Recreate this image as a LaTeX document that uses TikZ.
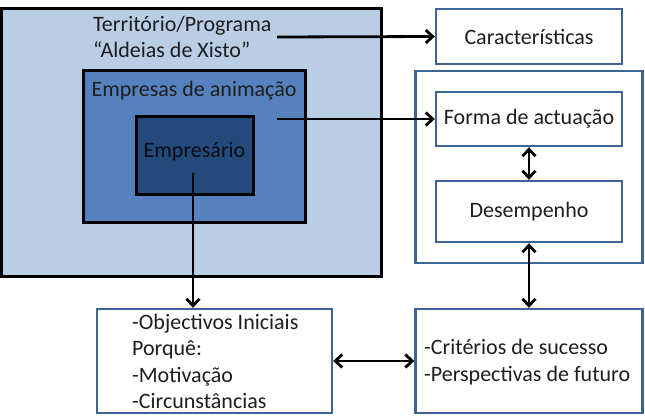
\documentclass[tikz,border=0pt]{standalone}
\usepackage{fontspec}
\setmainfont{Carlito}
\usetikzlibrary{arrows.meta}
\definecolor{lightbl}{HTML}{B9CDE5}
\definecolor{midbl}{HTML}{5581BE}
\definecolor{darkbl}{HTML}{244A7C}
\definecolor{edgebl}{HTML}{3C6494}
\definecolor{txt}{HTML}{1E1E1E}
\begin{document}
\begin{tikzpicture}[x=1pt,y=-1pt,
  nest/.style={draw=black,line width=3pt,inner sep=0pt},
  wbox/.style={draw=edgebl,line width=2.4pt,fill=white,inner sep=0pt},
  lbl/.style={font=\fontsize{22}{26.3}\selectfont,text=txt,inner sep=0pt},
  conn/.style={line width=2.8pt,draw=black},
  tip/.style={-{Straight Barb[length=7pt,width=13pt]}},
  tips/.style={{Straight Barb[length=7pt,width=13pt]}-{Straight Barb[length=7pt,width=13pt]}}]
\useasboundingbox (0,0) rectangle (645,417);
% nested boxes
\node[nest,fill=lightbl,minimum width=380pt,minimum height=267pt] (terr) at (191,142.5) {};
\node[nest,fill=midbl,minimum width=222pt,minimum height=151pt] (emp) at (194,146.5) {};
\node[nest,fill=darkbl,minimum width=117pt,minimum height=77pt] (empr) at (194.5,155.5) {};
\node[lbl,align=left,anchor=west] (terrtxt) at (93,37) {Território/Programa\\“Aldeias de Xisto”};
\node[lbl] (emptxt) at (194,91) {Empresas de animação};
\node[lbl,text=black!85!darkbl] (emprtxt) at (194.5,152) {Empresário};
% right boxes
\node[wbox,minimum width=186pt,minimum height=55pt] (car) at (529,36.5) {};
\node[lbl] at (car) {Características};
\node[wbox,minimum width=227pt,minimum height=192pt] (grp) at (529,167) {};
\node[wbox,minimum width=186pt,minimum height=54pt] (forma) at (529,119) {};
\node[lbl] at (forma) {Forma de actuação};
\node[wbox,minimum width=186pt,minimum height=61pt] (desemp) at (529,211.5) {};
\node[lbl] at (desemp) {Desempenho};
\node[wbox,minimum width=235pt,minimum height=104pt] (obj) at (214.5,361) {};
\node[lbl,align=left,anchor=west] (objtxt) at (132,361.5) {-Objectivos Iniciais\\Porquê:\\-Motivação\\-Circunstâncias};
\node[wbox,minimum width=227pt,minimum height=104pt] (crit) at (529,361) {};
\node[lbl,align=left,anchor=west] (crittxt) at (424,362) {-Critérios de sucesso\\-Perspectivas de futuro};
% connectors
\coordinate (tp) at (277,37);
\coordinate (ep) at (277,119);
\coordinate (es) at (193,173);
\draw[conn,tip] (tp) -- (car.west);
\draw[conn,tip] (ep) -- (forma.west);
\draw[conn,tip] (es) -- (es |- obj.north);
\draw[conn,tips] (forma.south) -- (desemp.north);
\draw[conn,tips] (desemp.south) -- (crit.north);
\draw[conn,tips] (obj.east) -- (crit.west);
\end{tikzpicture}
\end{document}
